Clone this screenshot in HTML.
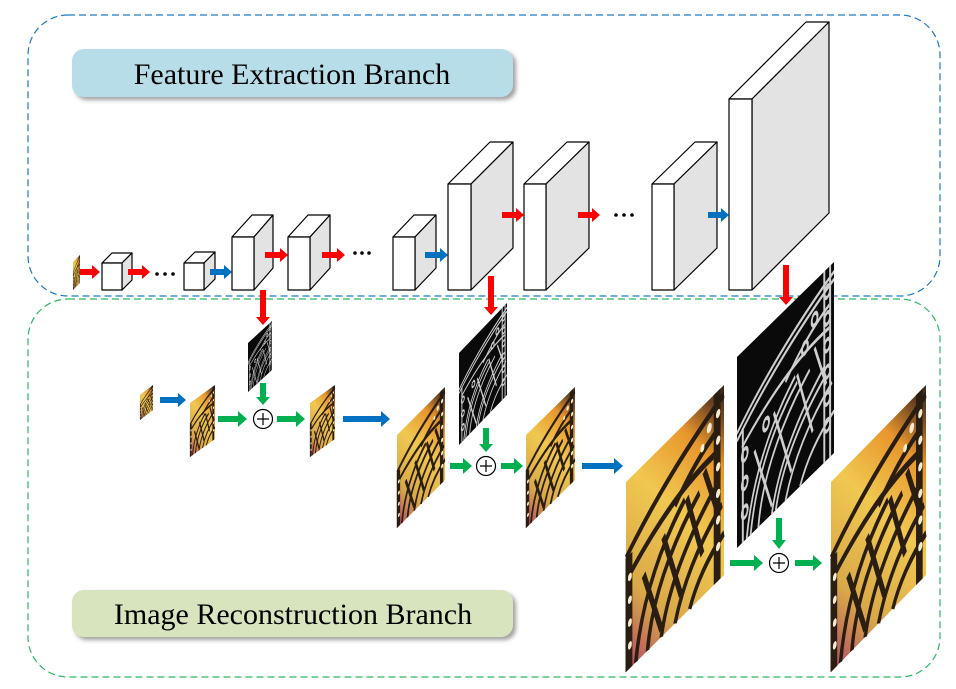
<!DOCTYPE html>
<html><head><meta charset="utf-8"><style>
html,body{margin:0;padding:0;background:#fff;}
svg{display:block;}
text{font-family:"Liberation Serif",serif;}
</style></head><body>
<svg width="956" height="689" viewBox="0 0 956 689" xmlns="http://www.w3.org/2000/svg">
<defs>
<linearGradient id="bg" x1="0" y1="1" x2="1" y2="0">
<stop offset="0" stop-color="#b04468"/><stop offset="0.25" stop-color="#d9a848"/><stop offset="0.55" stop-color="#f0c850"/><stop offset="0.78" stop-color="#e8962c"/><stop offset="0.92" stop-color="#6a4222"/><stop offset="1" stop-color="#3a2616"/>
</linearGradient>
<g id="bf">
<rect x="0" y="0" width="100" height="100" fill="url(#bg)"/>
<g fill="none" stroke="#2a1d12" stroke-width="4">
<path d="M0 40 Q40 18 100 5"/>
<path d="M5 50 Q50 30 95 32"/>
<path d="M10 100 Q18 60 60 40"/>
<path d="M22 100 Q28 65 75 44"/>
<path d="M36 100 Q45 70 90 50"/>
<path d="M50 100 Q62 75 98 62"/>
<path d="M65 100 Q75 85 100 78"/>
<path d="M18 58 L36 96"/><path d="M38 48 L56 88"/><path d="M62 40 L78 78"/><path d="M80 35 L92 60"/>
<path d="M50 38 Q70 25 95 20"/>
</g>
<g fill="none" stroke="#2a1d12" stroke-width="7">
<path d="M93 0 L93 100"/><path d="M3 40 L3 100"/>
</g>
<g fill="#f6ecd0">
<circle cx="94" cy="12" r="2.2"/><circle cx="94" cy="26" r="2.2"/><circle cx="94" cy="40" r="2.2"/><circle cx="94" cy="54" r="2.2"/><circle cx="94" cy="68" r="2.2"/><circle cx="94" cy="82" r="2.2"/>
<circle cx="4" cy="52" r="2"/><circle cx="4" cy="64" r="2"/><circle cx="4" cy="76" r="2"/><circle cx="4" cy="88" r="2"/>
<circle cx="85" cy="15" r="2.5"/><circle cx="78" cy="22" r="2"/>
</g>
</g>
<g id="ed">
<rect x="0" y="0" width="100" height="100" fill="#0a0a0a"/>
<g fill="none" stroke="#cfcfcf" stroke-width="2">
<path d="M0 40 Q40 18 100 5"/><path d="M0 44 Q40 22 100 9"/>
<path d="M5 50 Q50 30 95 32"/>
<path d="M10 100 Q18 60 60 40"/><path d="M14 100 Q22 62 62 44"/>
<path d="M22 100 Q28 65 75 44"/>
<path d="M36 100 Q45 70 90 50"/><path d="M40 100 Q49 72 92 55"/>
<path d="M50 100 Q62 75 98 62"/>
<path d="M65 100 Q75 85 100 78"/>
<path d="M18 58 L36 96"/><path d="M38 48 L56 88"/><path d="M62 40 L78 78"/><path d="M80 35 L92 60"/>
<path d="M50 38 Q70 25 95 20"/>
<path d="M90 0 L90 100"/><path d="M96 0 L96 100"/><path d="M6 40 L6 100"/>
<circle cx="93" cy="12" r="3"/><circle cx="93" cy="26" r="3"/><circle cx="93" cy="40" r="3"/><circle cx="93" cy="54" r="3"/><circle cx="93" cy="68" r="3"/><circle cx="93" cy="82" r="3"/>
<circle cx="8" cy="55" r="3"/><circle cx="8" cy="70" r="3"/><circle cx="8" cy="85" r="3"/>
<circle cx="80" cy="20" r="3"/><circle cx="70" cy="30" r="3"/><circle cx="30" cy="50" r="3"/>
</g>
</g>
<filter id="sh" x="-5%" y="-20%" width="115%" height="150%"><feDropShadow dx="3" dy="3" stdDeviation="2" flood-color="#888" flood-opacity="0.8"/></filter>
</defs>

<rect x="28" y="15" width="912" height="281" rx="40" fill="none" stroke="#1a7ac8" stroke-width="1.2" stroke-dasharray="7 4"/>
<rect x="28" y="299" width="912" height="378" rx="40" fill="none" stroke="#2cb860" stroke-width="1.2" stroke-dasharray="7 4"/>

<rect x="72" y="49" width="441" height="48" rx="12" fill="#b7dde8" filter="url(#sh)"/>
<text x="292" y="84" font-size="30" text-anchor="middle" fill="#000">Feature Extraction Branch</text>
<rect x="72" y="590" width="441" height="47" rx="12" fill="#d7e4bd" filter="url(#sh)"/>
<text x="293" y="624" font-size="30" text-anchor="middle" fill="#000">Image Reconstruction Branch</text>

<g stroke="#000" stroke-width="1.2" stroke-linejoin="round">
<polygon points="102,263 112,253 132,253 122,263" fill="#fff"/><polygon points="122,263 132,253 132,280 122,290" fill="#e3e3e3"/><rect x="102" y="263" width="20" height="27" fill="#fff"/>
<polygon points="184,263 195,252 215,252 204,263" fill="#fff"/><polygon points="204,263 215,252 215,279 204,290" fill="#e3e3e3"/><rect x="184" y="263" width="20" height="27" fill="#fff"/>
<polygon points="232,237 252,215 273,215 254,237" fill="#fff"/><polygon points="254,237 273,215 273,268 254,290" fill="#e3e3e3"/><rect x="232" y="237" width="22" height="53" fill="#fff"/>
<polygon points="288,237 308,215 330,215 310,237" fill="#fff"/><polygon points="310,237 330,215 330,268 310,290" fill="#e3e3e3"/><rect x="288" y="237" width="22" height="53" fill="#fff"/>
<polygon points="393,237 414,215 436,215 415,237" fill="#fff"/><polygon points="415,237 436,215 436,268 415,290" fill="#e3e3e3"/><rect x="393" y="237" width="22" height="53" fill="#fff"/>
<polygon points="448,184 490,142 513,142 471,184" fill="#fff"/><polygon points="471,184 513,142 513,248 471,290" fill="#e3e3e3"/><rect x="448" y="184" width="23" height="106" fill="#fff"/>
<polygon points="524,184 567,142 589,142 546,184" fill="#fff"/><polygon points="546,184 589,142 589,248 546,290" fill="#e3e3e3"/><rect x="524" y="184" width="22" height="106" fill="#fff"/>
<polygon points="652,184 695,142 717,142 674,184" fill="#fff"/><polygon points="674,184 717,142 717,248 674,290" fill="#e3e3e3"/><rect x="652" y="184" width="22" height="106" fill="#fff"/>
<polygon points="729,99 806,22 829,22 752,99" fill="#fff"/><polygon points="752,99 829,22 829,213 752,290" fill="#e3e3e3"/><rect x="729" y="99" width="23" height="191" fill="#fff"/>
</g>

<g fill="#000">
<circle cx="157" cy="274" r="1.8"/><circle cx="165" cy="274" r="1.8"/><circle cx="173" cy="274" r="1.8"/>
<circle cx="355" cy="253" r="1.8"/><circle cx="362" cy="253" r="1.8"/><circle cx="369" cy="253" r="1.8"/>
<circle cx="616" cy="215" r="1.8"/><circle cx="624" cy="215" r="1.8"/><circle cx="632" cy="215" r="1.8"/>
</g>

<use href="#bf" transform="matrix(0.07,-0.07,0,0.28,73,262)"/>
<use href="#bf" transform="matrix(0.13,-0.10,0,0.25,140,395)"/>
<use href="#bf" transform="matrix(0.25,-0.18,0,0.54,190,403)"/>
<use href="#bf" transform="matrix(0.25,-0.18,0,0.54,310,403)"/>
<use href="#ed" transform="matrix(0.24,-0.22,0,0.49,248,343)"/>
<use href="#bf" transform="matrix(0.48,-0.48,0,0.93,397,435)"/>
<use href="#ed" transform="matrix(0.48,-0.50,0,0.92,459,353)"/>
<use href="#bf" transform="matrix(0.49,-0.48,0,0.93,526,435)"/>
<use href="#bf" transform="matrix(0.98,-0.97,0,1.90,626,482)"/>
<use href="#ed" transform="matrix(0.97,-0.95,0,1.91,737,357)"/>
<use href="#bf" transform="matrix(0.95,-0.97,0,1.90,831,482)"/>

<g fill="#ff0000">
<polygon points="80,269 92,269 92,265 100,272 92,279 92,275 80,275"/>
<polygon points="128,269 142,269 142,265 150,272 142,279 142,275 128,275"/>
<polygon points="265,252 280,252 280,248 288,255 280,262 280,258 265,258"/>
<polygon points="322,252 337,252 337,248 345,255 337,262 337,258 322,258"/>
<polygon points="502,212 516,212 516,208 524,215 516,222 516,218 502,218"/>
<polygon points="578,212 592,212 592,208 600,215 592,222 592,218 578,218"/>
<polygon points="260,290 266,290 266,317 270,317 263,325 256,317 260,317"/>
<polygon points="488,276 494,276 494,307 498,307 491,315 484,307 488,307"/>
<polygon points="783,265 789,265 789,297 793,297 786,305 779,297 783,297"/>
</g>
<g fill="#0070c0">
<polygon points="210,269 224,269 224,265 232,272 224,279 224,275 210,275"/>
<polygon points="425,252 440,252 440,248 448,255 440,262 440,258 425,258"/>
<polygon points="708,212 721,212 721,208 729,215 721,222 721,218 708,218"/>
<polygon points="160,397 178,397 178,393 186,400 178,407 178,403 160,403"/>
<polygon points="343,416 381,416 381,411 390,419 381,427 381,422 343,422"/>
<polygon points="582,463 614,463 614,458 623,466 614,474 614,469 582,469"/>
</g>
<g fill="#00b050">
<polygon points="218,416 238,416 238,411 247,419 238,427 238,422 218,422"/>
<polygon points="277,416 296,416 296,411 305,419 296,427 296,422 277,422"/>
<polygon points="260,383 266,383 266,397 270,397 263,405 256,397 260,397"/>
<polygon points="450,463 463,463 463,458 472,466 463,474 463,469 450,469"/>
<polygon points="501,463 514,463 514,458 523,466 514,474 514,469 501,469"/>
<polygon points="483,428 489,428 489,444 493,444 486,452 479,444 483,444"/>
<polygon points="730,560 754,560 754,555 763,563 754,571 754,566 730,566"/>
<polygon points="795,560 813,560 813,555 822,563 813,571 813,566 795,566"/>
<polygon points="776,518 782,518 782,540 786,540 779,549 772,540 776,540"/>
</g>

<g fill="#fff" stroke="#000" stroke-width="1.2">
<circle cx="263" cy="419" r="9.5"/><circle cx="486" cy="466" r="9.5"/><circle cx="779" cy="563" r="9.5"/>
</g>
<g stroke="#000" stroke-width="1.2">
<path d="M257 419 H269 M263 413 V425"/><path d="M480 466 H492 M486 460 V472"/><path d="M773 563 H785 M779 557 V569"/>
</g>
</svg>
</body></html>
